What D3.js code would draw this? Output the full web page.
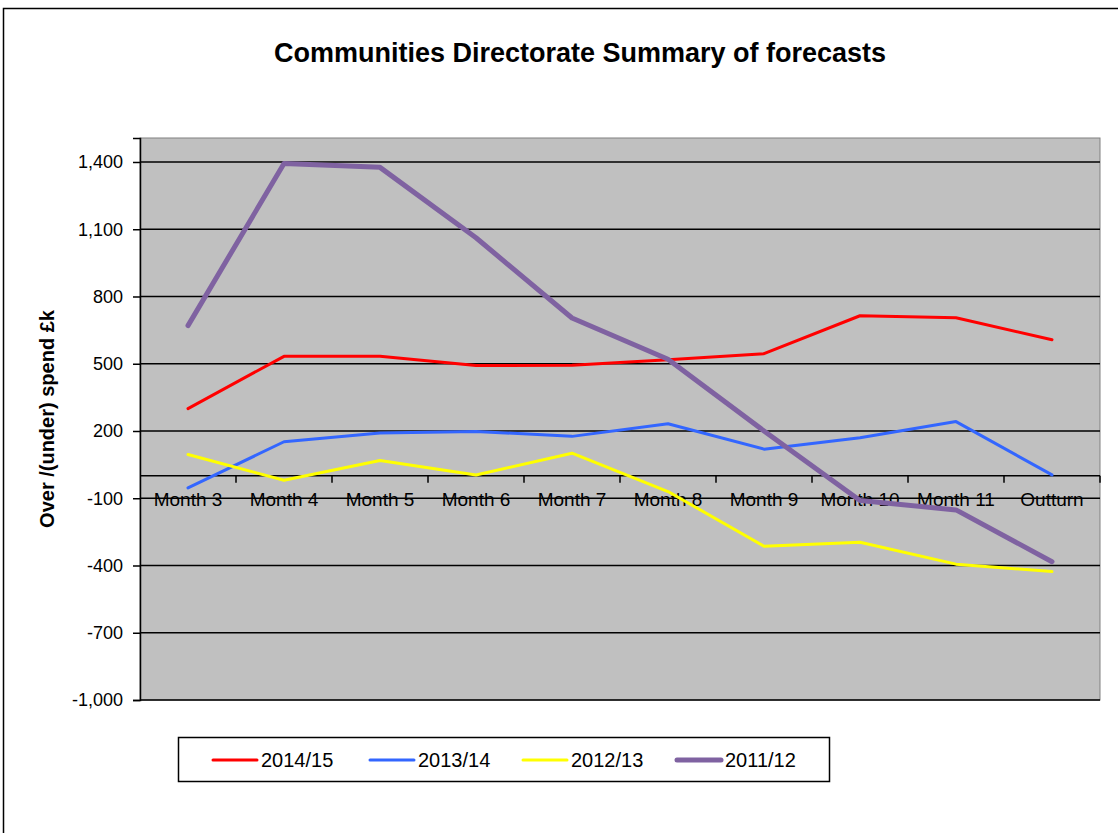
<!DOCTYPE html>
<html>
<head>
<meta charset="utf-8">
<script src="https://cdn.jsdelivr.net/npm/d3@7"></script>
<style>
  body { margin: 0; background: #fff; }
  svg text { font-family: "Liberation Sans", Arial, sans-serif; }
</style>
</head>
<body>
<script>
const width = 1118;
const height = 833;

// data
const months = ['Month 3', 'Month 4', 'Month 5', 'Month 6', 'Month 7', 'Month 8', 'Month 9', 'Month 10', 'Month 11', 'Outturn'];
const seriesNames = ['2014/15', '2013/14', '2012/13', '2011/12'];
const fy1415 = [300, 533, 533, 492, 493, 518, 545, 714, 705, 607];
const fy1314 = [-54, 152, 191, 198, 176, 232, 119, 170, 242, 4];
const fy1213 = [95, -20, 68, 4, 101, -70, -314, -296, -394, -427];
const fy1112 = [670, 1393, 1376, 1062, 704, 520, 200, -110, -152, -383];
const yTicks = [-1000, -700, -400, -100, 200, 500, 800, 1100, 1400];

const colors = ['#ff0000', '#3366ff', '#ffff00', '#7f62a1'];
const widths = [3, 3, 3, 5];
const allSeries = [fy1415, fy1314, fy1213, fy1112];

const plot = { left: 140, right: 1100, top: 138, bottom: 700 };

const svg = d3.select('body')
    .append('svg')
    .attr('width', width)
    .attr('height', height);

// outer chart border
svg.append('rect')
    .attr('x', 3.5).attr('y', 8.5)
    .attr('width', width + 10).attr('height', height + 10)
    .attr('fill', '#fff')
    .attr('stroke', '#000')
    .attr('stroke-width', 1.5);

svg.append('text')
    .attr('x', 580).attr('y', 62)
    .attr('text-anchor', 'middle')
    .attr('font-size', 27)
    .attr('font-weight', 'bold')
    .text('Communities Directorate Summary of forecasts');

const x = d3.scaleBand().domain(months).range([plot.left, plot.right]);
const y = d3.scaleLinear().domain([-1000, 1507]).range([plot.bottom, plot.top]);

// plot area
svg.append('rect')
    .attr('x', plot.left).attr('y', plot.top)
    .attr('width', plot.right - plot.left).attr('height', plot.bottom - plot.top)
    .attr('fill', '#c0c0c0')
    .attr('stroke', '#808080')
    .attr('stroke-width', 1);

// gridlines
svg.append('g')
    .selectAll('line')
    .data(yTicks)
    .enter()
    .append('line')
    .attr('x1', plot.left).attr('x2', plot.right)
    .attr('y1', d => y(d)).attr('y2', d => y(d))
    .attr('stroke', '#000')
    .attr('stroke-width', 1.5);

// value axis (plain hyphen for negatives, like the original)
const fmt = d3.format(',');
const yAxis = d3.axisLeft(y)
    .tickValues(yTicks)
    .tickSize(7)
    .tickPadding(10)
    .tickFormat(d => fmt(d).replace('\u2212', '-'));
const yg = svg.append('g')
    .attr('transform', `translate(${plot.left},0)`)
    .call(yAxis);
yg.select('.domain').attr('stroke', '#000').attr('stroke-width', 1.5);
yg.selectAll('.tick line').attr('stroke', '#000').attr('stroke-width', 1.5);
yg.selectAll('text').attr('font-size', 18).attr('fill', '#000')
    .style('font-family', '"Liberation Sans", Arial, sans-serif');

// category axis across the zero line
const xg = svg.append('g').attr('transform', `translate(0,${y(0)})`);
xg.append('line')
    .attr('x1', plot.left).attr('x2', plot.right)
    .attr('stroke', '#000').attr('stroke-width', 1.5);
xg.selectAll('.cat-tick')
    .data(months)
    .enter()
    .append('line')
    .attr('class', 'cat-tick')
    .attr('x1', (d, i) => plot.left + x.step() * (i + 1))
    .attr('x2', (d, i) => plot.left + x.step() * (i + 1))
    .attr('y1', 0).attr('y2', 7)
    .attr('stroke', '#000').attr('stroke-width', 1.5);
xg.selectAll('text')
    .data(months)
    .enter()
    .append('text')
    .attr('x', d => x(d) + x.bandwidth() / 2)
    .attr('y', 30)
    .attr('text-anchor', 'middle')
    .attr('font-size', 19)
    .text(d => d);

// y axis title
svg.append('text')
    .attr('transform', `translate(54,${(plot.top + plot.bottom) / 2}) rotate(-90)`)
    .attr('text-anchor', 'middle')
    .attr('font-size', 20)
    .attr('font-weight', 'bold')
    .text('Over /(under) spend £k');

// series lines
const line = d3.line()
    .x((d, i) => x(months[i]) + x.bandwidth() / 2)
    .y(d => y(d));

svg.append('g')
    .selectAll('path')
    .data(allSeries)
    .enter()
    .append('path')
    .attr('d', d => line(d))
    .attr('fill', 'none')
    .attr('stroke', (d, i) => colors[i])
    .attr('stroke-width', (d, i) => widths[i])
    .attr('stroke-linejoin', 'round')
    .attr('stroke-linecap', 'round');

// legend
const legend = svg.append('g');
legend.append('rect')
    .attr('x', 178.5).attr('y', 737.5)
    .attr('width', 651).attr('height', 44)
    .attr('fill', '#fff')
    .attr('stroke', '#000')
    .attr('stroke-width', 1.5);

const legendX = [213, 370, 523, 677];
const items = legend.selectAll('.item')
    .data(seriesNames)
    .enter()
    .append('g')
    .attr('class', 'item')
    .attr('transform', (d, i) => `translate(${legendX[i]},760)`);
items.append('line')
    .attr('x1', 0).attr('x2', 44)
    .attr('stroke', (d, i) => colors[i])
    .attr('stroke-width', (d, i) => widths[i])
    .attr('stroke-linecap', 'round');
items.append('text')
    .attr('x', 48).attr('y', 7)
    .attr('font-size', 20)
    .text(d => d);
</script>
</body>
</html>
